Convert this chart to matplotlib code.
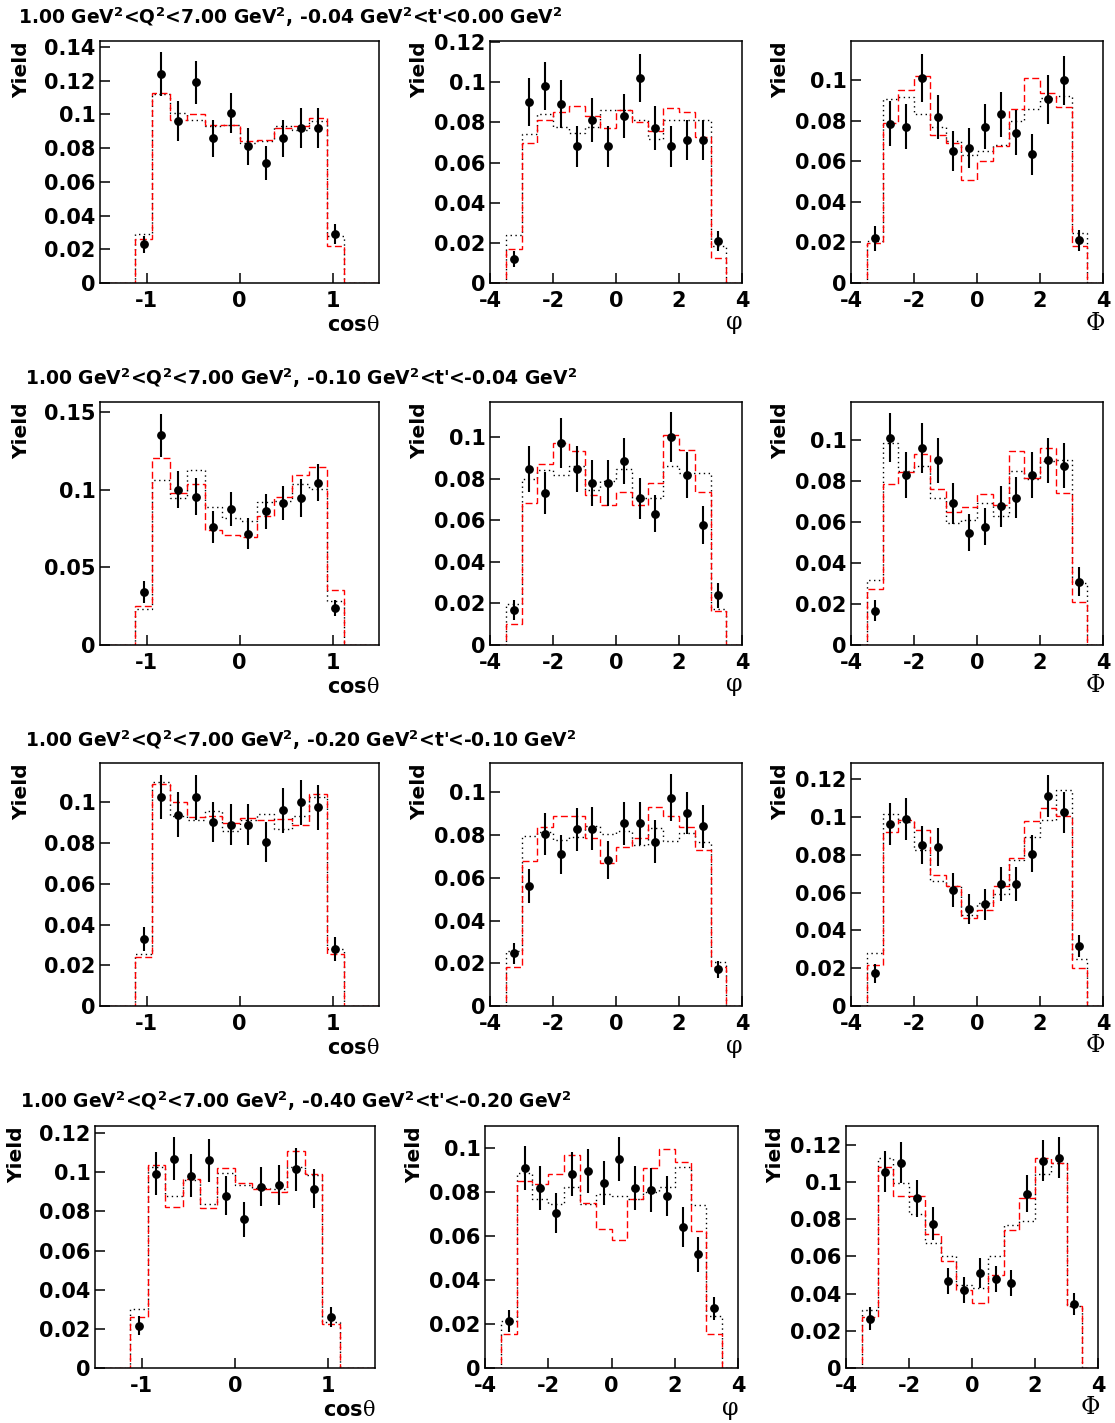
import numpy as np
import matplotlib
matplotlib.use("Agg")
import matplotlib.pyplot as plt

plt.rcParams['font.family'] = ['DejaVu Sans']
plt.rcParams['font.weight'] = 'bold'
plt.rcParams['axes.unicode_minus'] = False
plt.rcParams['mathtext.fontset'] = 'custom'
plt.rcParams['mathtext.rm'] = 'DejaVu Sans:bold'
plt.rcParams['mathtext.bf'] = 'DejaVu Sans:bold'
plt.rcParams['mathtext.it'] = 'DejaVu Serif:normal'

# row titles (t' bins)
row_titles = [
    "1.00 GeV$^{2}$<Q$^{2}$<7.00 GeV$^{2}$, -0.04 GeV$^{2}$<t'<0.00 GeV$^{2}$",
    "1.00 GeV$^{2}$<Q$^{2}$<7.00 GeV$^{2}$, -0.10 GeV$^{2}$<t'<-0.04 GeV$^{2}$",
    "1.00 GeV$^{2}$<Q$^{2}$<7.00 GeV$^{2}$, -0.20 GeV$^{2}$<t'<-0.10 GeV$^{2}$",
    "1.00 GeV$^{2}$<Q$^{2}$<7.00 GeV$^{2}$, -0.40 GeV$^{2}$<t'<-0.20 GeV$^{2}$",
]

# bin edges
cth_edges = np.linspace(-1.5, 1.5, 17)
phi_edges = np.linspace(-4, 4, 17)

# ---- row 1 ----
cth1_data = [0.023, 0.124, 0.096, 0.119, 0.086, 0.101, 0.081, 0.071, 0.086, 0.092, 0.092, 0.029]
cth1_err = [0.005, 0.013, 0.012, 0.013, 0.011, 0.012, 0.011, 0.010, 0.011, 0.012, 0.012, 0.006]
cth1_red = [0.026, 0.113, 0.097, 0.100, 0.094, 0.094, 0.084, 0.085, 0.092, 0.093, 0.098, 0.022]
cth1_blk = [0.029, 0.112, 0.101, 0.097, 0.093, 0.094, 0.083, 0.084, 0.093, 0.091, 0.096, 0.028]

phi1_data = [0.012, 0.090, 0.098, 0.089, 0.068, 0.081, 0.068, 0.083, 0.102, 0.077, 0.068, 0.071, 0.071, 0.021]
phi1_err = [0.004, 0.012, 0.012, 0.012, 0.010, 0.011, 0.010, 0.011, 0.012, 0.011, 0.010, 0.010, 0.010, 0.005]
phi1_red = [0.017, 0.0695, 0.081, 0.085, 0.088, 0.083, 0.077, 0.086, 0.080, 0.0757, 0.087, 0.085, 0.0725, 0.0125]
phi1_blk = [0.024, 0.074, 0.084, 0.0775, 0.0745, 0.0775, 0.086, 0.086, 0.081, 0.0716, 0.081, 0.081, 0.081, 0.0186]

Phi1_data = [0.022, 0.0785, 0.077, 0.101, 0.0818, 0.065, 0.0664, 0.077, 0.083, 0.074, 0.0634, 0.0905, 0.0998, 0.021]
Phi1_err = [0.006, 0.011, 0.011, 0.012, 0.011, 0.010, 0.010, 0.011, 0.011, 0.011, 0.010, 0.012, 0.012, 0.005]
Phi1_red = [0.0198, 0.079, 0.095, 0.102, 0.073, 0.069, 0.0508, 0.060, 0.0675, 0.0856, 0.101, 0.0934, 0.0867, 0.0184]
Phi1_blk = [0.0205, 0.0905, 0.0916, 0.083, 0.0766, 0.070, 0.063, 0.0648, 0.068, 0.080, 0.0856, 0.0913, 0.092, 0.0246]

# ---- row 2 ----
cth2_data = [0.034, 0.135, 0.100, 0.0956, 0.076, 0.0875, 0.0716, 0.086, 0.0916, 0.0946, 0.1045, 0.0239]
cth2_err = [0.007, 0.014, 0.012, 0.012, 0.010, 0.011, 0.010, 0.011, 0.011, 0.012, 0.012, 0.005]
cth2_red = [0.025, 0.1206, 0.098, 0.1038, 0.0741, 0.0711, 0.0694, 0.0834, 0.0952, 0.1098, 0.1145, 0.0355]
cth2_blk = [0.0232, 0.1064, 0.0948, 0.1128, 0.0888, 0.0819, 0.0797, 0.092, 0.093, 0.104, 0.1006, 0.0286]

phi2_data = [0.0168, 0.0847, 0.0733, 0.0973, 0.0847, 0.078, 0.078, 0.0887, 0.0706, 0.0633, 0.100, 0.0819, 0.0577, 0.0239]
phi2_err = [0.005, 0.011, 0.010, 0.012, 0.011, 0.011, 0.011, 0.011, 0.010, 0.009, 0.012, 0.011, 0.009, 0.006]
phi2_red = [0.010, 0.0685, 0.0872, 0.0973, 0.0932, 0.0722, 0.0674, 0.0738, 0.0674, 0.0782, 0.101, 0.094, 0.0735, 0.0165]
phi2_blk = [0.0197, 0.0798, 0.0843, 0.0819, 0.086, 0.0746, 0.079, 0.0847, 0.0706, 0.0706, 0.086, 0.083, 0.083, 0.0173]

Phi2_data = [0.0167, 0.101, 0.0828, 0.0959, 0.090, 0.069, 0.0547, 0.0575, 0.0676, 0.0717, 0.0828, 0.0899, 0.0873, 0.0309]
Phi2_err = [0.005, 0.012, 0.011, 0.012, 0.011, 0.010, 0.009, 0.009, 0.010, 0.010, 0.011, 0.011, 0.011, 0.007]
Phi2_red = [0.0273, 0.0783, 0.084, 0.093, 0.0761, 0.0649, 0.0673, 0.0734, 0.0681, 0.0943, 0.0812, 0.0959, 0.0742, 0.0208]
Phi2_blk = [0.0317, 0.0984, 0.0845, 0.0873, 0.0714, 0.0595, 0.0608, 0.069, 0.0627, 0.0845, 0.0807, 0.0897, 0.0902, 0.030]

# ---- row 3 ----
cth3_data = [0.033, 0.1026, 0.094, 0.1025, 0.0903, 0.089, 0.089, 0.0805, 0.096, 0.100, 0.0975, 0.0279]
cth3_err = [0.006, 0.011, 0.011, 0.011, 0.010, 0.010, 0.010, 0.010, 0.011, 0.011, 0.011, 0.006]
cth3_red = [0.0243, 0.109, 0.100, 0.0928, 0.0934, 0.0898, 0.0923, 0.0911, 0.0918, 0.089, 0.1043, 0.0256]
cth3_blk = [0.0254, 0.110, 0.0934, 0.0915, 0.0956, 0.0857, 0.0915, 0.0944, 0.0869, 0.0931, 0.1026, 0.0279]

phi3_data = [0.0246, 0.056, 0.0805, 0.0709, 0.0826, 0.083, 0.0682, 0.0854, 0.0854, 0.0768, 0.0974, 0.0903, 0.0841, 0.0171]
phi3_err = [0.005, 0.008, 0.010, 0.009, 0.010, 0.010, 0.009, 0.010, 0.010, 0.010, 0.011, 0.010, 0.010, 0.004]
phi3_red = [0.0182, 0.0678, 0.0838, 0.0888, 0.0888, 0.0787, 0.067, 0.0743, 0.0787, 0.0931, 0.0888, 0.0836, 0.0729, 0.0182]
phi3_blk = [0.0257, 0.0794, 0.0813, 0.0776, 0.0791, 0.0844, 0.0807, 0.0818, 0.0755, 0.0833, 0.0771, 0.081, 0.0766, 0.0207]

Phi3_data = [0.0172, 0.0964, 0.0989, 0.0853, 0.0841, 0.0612, 0.0514, 0.0537, 0.0646, 0.0646, 0.0806, 0.1109, 0.1024, 0.0317]
Phi3_err = [0.005, 0.011, 0.011, 0.010, 0.010, 0.009, 0.008, 0.008, 0.009, 0.009, 0.010, 0.011, 0.011, 0.006]
Phi3_red = [0.0215, 0.0919, 0.0982, 0.0929, 0.0695, 0.0637, 0.0466, 0.051, 0.0637, 0.0783, 0.098, 0.1047, 0.1007, 0.0202]
Phi3_blk = [0.0278, 0.1017, 0.0971, 0.0824, 0.066, 0.0633, 0.048, 0.0545, 0.059, 0.0771, 0.0894, 0.0985, 0.114, 0.0246]

# ---- row 4 ----
cth4_data = [0.0216, 0.0993, 0.107, 0.0981, 0.106, 0.0881, 0.076, 0.0925, 0.0935, 0.1015, 0.0915, 0.026]
cth4_err = [0.005, 0.011, 0.011, 0.011, 0.011, 0.010, 0.009, 0.010, 0.010, 0.011, 0.010, 0.005]
cth4_red = [0.0263, 0.1035, 0.0823, 0.0967, 0.0818, 0.1022, 0.0947, 0.0913, 0.090, 0.111, 0.0993, 0.0224]
cth4_blk = [0.0302, 0.1027, 0.0877, 0.0959, 0.0837, 0.0996, 0.0933, 0.0917, 0.0913, 0.1027, 0.0988, 0.0234]

phi4_data = [0.0212, 0.0906, 0.0815, 0.0703, 0.0882, 0.0894, 0.0838, 0.095, 0.0815, 0.0806, 0.078, 0.0639, 0.0515, 0.027]
phi4_err = [0.005, 0.010, 0.010, 0.009, 0.010, 0.010, 0.010, 0.010, 0.010, 0.010, 0.009, 0.009, 0.008, 0.005]
phi4_red = [0.0152, 0.0848, 0.0836, 0.0879, 0.0967, 0.075, 0.0629, 0.0583, 0.0765, 0.0909, 0.0995, 0.0935, 0.0621, 0.0155]
phi4_blk = [0.0215, 0.0886, 0.0765, 0.0745, 0.0821, 0.0745, 0.0788, 0.078, 0.0765, 0.080, 0.0821, 0.0912, 0.0739, 0.0238]

Phi4_data = [0.0266, 0.1056, 0.1105, 0.0913, 0.0776, 0.0467, 0.0422, 0.0512, 0.048, 0.0458, 0.0938, 0.1114, 0.1132, 0.0345]
Phi4_err = [0.006, 0.011, 0.011, 0.010, 0.009, 0.007, 0.007, 0.008, 0.007, 0.007, 0.010, 0.011, 0.011, 0.006]
Phi4_red = [0.0275, 0.1081, 0.0925, 0.0925, 0.0719, 0.0578, 0.0422, 0.035, 0.0503, 0.0742, 0.0913, 0.1132, 0.1101, 0.0336]
Phi4_blk = [0.0314, 0.1128, 0.0997, 0.083, 0.0674, 0.0602, 0.0449, 0.0428, 0.0602, 0.0769, 0.079, 0.1042, 0.1105, 0.0336]

panels = [
    [(cth1_data, cth1_err, cth1_red, cth1_blk), (phi1_data, phi1_err, phi1_red, phi1_blk), (Phi1_data, Phi1_err, Phi1_red, Phi1_blk)],
    [(cth2_data, cth2_err, cth2_red, cth2_blk), (phi2_data, phi2_err, phi2_red, phi2_blk), (Phi2_data, Phi2_err, Phi2_red, Phi2_blk)],
    [(cth3_data, cth3_err, cth3_red, cth3_blk), (phi3_data, phi3_err, phi3_red, phi3_blk), (Phi3_data, Phi3_err, Phi3_red, Phi3_blk)],
    [(cth4_data, cth4_err, cth4_red, cth4_blk), (phi4_data, phi4_err, phi4_red, phi4_blk), (Phi4_data, Phi4_err, Phi4_red, Phi4_blk)],
]

# y-axis range and tick step per panel
ymax = [[0.1436, 0.1205, 0.1192],
        [0.1565, 0.117, 0.1183],
        [0.1193, 0.1137, 0.1285],
        [0.1236, 0.1098, 0.1302]]
ystep = [[0.02, 0.02, 0.02],
         [0.05, 0.02, 0.02],
         [0.02, 0.02, 0.02],
         [0.02, 0.02, 0.02]]

W, H = 1115, 1423
fig = plt.figure(figsize=(W / 100, H / 100), dpi=100)

# frame positions in pixels (left, right) per column, (top, bottom) per row
cols = [[(100, 379), (490, 742), (851, 1103)]] * 3 + [[(95, 375), (485, 738), (846, 1098)]]
rows = [(41, 283), (402, 645), (763, 1006), (1126, 1368)]
title_pos = [(18, 17), (25, 378), (25, 740), (20, 1101)]

xlabels = [r'cos$\theta$', 'φ', 'Φ']


def fx(x):
    return x / W


def fy(y):
    return 1 - y / H


for r in range(4):
    t, b = rows[r]
    fig.text(fx(title_pos[r][0]), fy(title_pos[r][1]), row_titles[r],
             fontsize=13.5, fontweight='bold', ha='left', va='center')
    for c in range(3):
        l, rr = cols[r][c]
        ax = fig.add_axes([fx(l), fy(b), (rr - l) / W, (b - t) / H])
        data, err, red, blk = panels[r][c]
        if c == 0:
            edges = cth_edges
            red_full = np.concatenate([[0, 0], red, [0, 0]])
            blk_full = np.concatenate([[0, 0], blk, [0, 0]])
            centers = 0.5 * (edges[2:14] + edges[3:15])
            ax.set_xlim(-1.5, 1.5)
            ax.set_xticks([-1, 0, 1])
        else:
            edges = phi_edges
            red_full = np.concatenate([[0], red, [0]])
            blk_full = np.concatenate([[0], blk, [0]])
            centers = 0.5 * (edges[1:15] + edges[2:16])
            ax.set_xlim(-4, 4)
            ax.set_xticks([-4, -2, 0, 2, 4])

        ax.stairs(blk_full, edges, color='black', lw=1.0, linestyle=(0, (1, 2.5)))
        ax.stairs(red_full, edges, color='red', lw=1.0, linestyle=(0, (5, 2.5)))
        ax.errorbar(centers, data, yerr=err, fmt='o', color='black', ms=5.3,
                    elinewidth=1.5, capsize=0)

        ax.set_ylim(0, ymax[r][c])
        ax.set_yticks(np.arange(0, ymax[r][c] + 1e-9, ystep[r][c]))
        ax.yaxis.set_major_formatter(matplotlib.ticker.FormatStrFormatter('%g'))
        ax.tick_params(direction='in', length=7, width=1.1, labelsize=15,
                       top=False, right=False)
        ax.tick_params(axis='x', pad=6)
        ax.tick_params(axis='y', pad=3)
        for lab in ax.get_xticklabels() + ax.get_yticklabels():
            lab.set_fontweight('bold')
        for sp in ax.spines.values():
            sp.set_linewidth(1.1)

        # axis titles, placed like ROOT does
        if c == 0:
            fig.text(fx(rr + 1), fy(b + 42), xlabels[c], fontsize=15, fontweight='bold',
                     ha='right', va='center')
        else:
            fig.text(fx(rr - 8), fy(b + 40), xlabels[c], fontsize=17,
                     family='DejaVu Serif', fontweight='normal',
                     ha='center', va='center')
        ylab_x = l - 78 if c == 0 else l - 70
        fig.text(fx(ylab_x), fy(t), 'Yield', rotation=90, fontsize=14.5,
                 fontweight='bold', ha='center', va='top')

fig.savefig('out.png', dpi=100)
